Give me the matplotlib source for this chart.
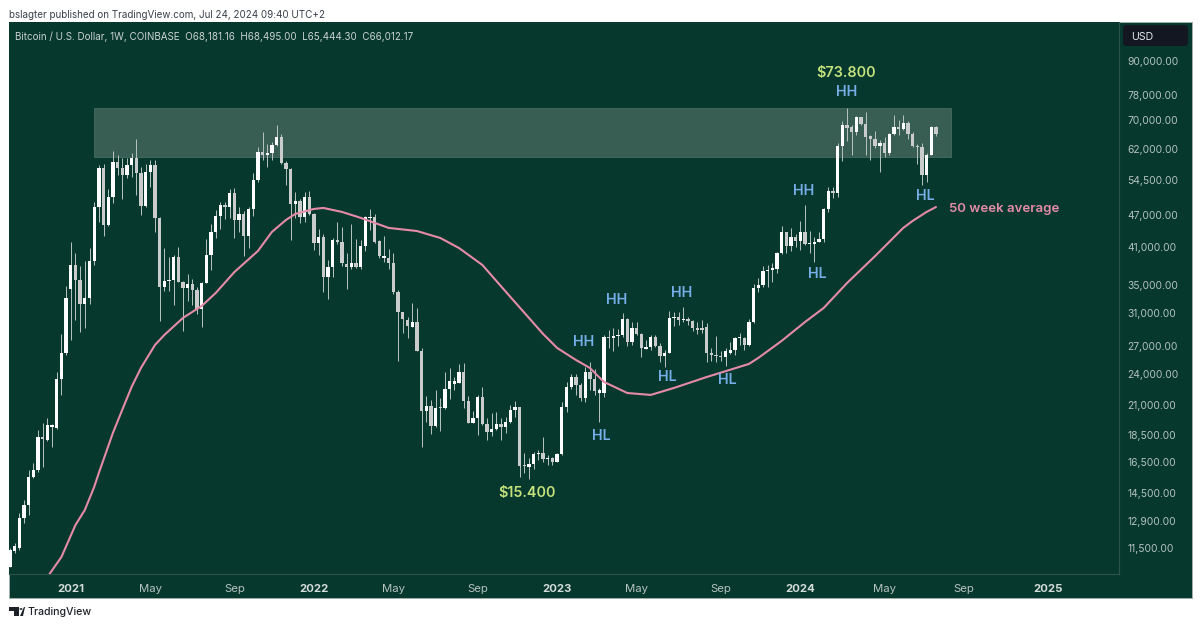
import matplotlib
matplotlib.use("Agg")
import matplotlib.pyplot as plt
import matplotlib.dates as mdates
import matplotlib.ticker as mticker
import pandas as pd
from matplotlib.patches import Rectangle, FancyBboxPatch, Circle, Polygon

plt.rcParams['font.family'] = ['Inter', 'DejaVu Sans']

START = '2020-10-05'
opens = [
 10630,11370,11500,13040,13780,15500,16000,18410,18150,19150,19090,23460,26180,
 34350,38010,35680,32170,33020,38700,48500,57200,45000,50740,58800,57200,55590,57990,59630,56150,48830,56380,57990,46280,34700,35570,35670,39290,35420,34480,35100,34200,31620,35290,39680,43640,46820,49000,48630,51600,46000,47140,43030,48100,54430,61300,60520,61060,63180,65190,58400,57000,49200,49810,46620,50590,
 47150,41770,42850,36180,37740,42240,41830,38190,37630,38280,37630,41190,46300,46620,42030,39220,39220,38280,33900,31100,30100,29200,29830,26470,20540,20950,19250,20800,20750,22500,23000,23120,24220,21430,19520,19940,21790,19390,18800,19000,19390,19200,19550,20600,20830,16330,16210,16400,17080,17150,16720,16800,
 16560,17100,20830,22670,23720,22900,21640,24220,23480,22160,22160,28000,27900,28160,28280,30260,27500,29090,28360,26660,26850,28000,27000,25880,26250,30430,30560,30130,30300,30010,29090,29170,29200,26170,26000,25880,25800,26200,26500,27880,27880,27110,29920,34440,34930,37060,37210,37400,39930,43640,41250,42850,
 42130,43750,41480,41600,41800,42370,48150,51960,51450,62830,68670,68190,66760,70930,68970,65500,64640,62830,63740,61100,66020,68190,67430,69360,66110,62830,62490,55590,60500,68181.16]
highs = [
 11490,11730,13320,14090,15990,16450,18940,19480,19890,19400,24230,28400,34800,
 41900,39930,37800,38600,40780,49700,57990,58350,52390,61540,60540,59630,59630,60970,64800,57440,58200,59190,59190,46640,40780,39370,39700,41010,35560,36550,35820,34680,35420,42420,45180,48000,49600,49600,52500,52700,48630,47800,48630,56130,62690,66770,63420,64020,68700,66220,59000,57300,51810,50160,51810,51960,
 47250,44190,43330,38820,42540,45650,44690,40040,45190,42360,42240,46800,48090,47080,42240,42960,40610,39930,34200,31200,30470,32320,31650,26800,21850,21480,22410,21640,24220,24630,23650,25010,25150,21850,20540,21900,22730,19890,20300,20450,19890,20030,21040,21430,20900,17150,16790,17270,17390,18350,17030,16910,
 17190,21340,23220,23950,23950,23060,24670,25270,24460,22580,28280,28880,29090,28970,30990,30350,29920,29840,28480,27690,28280,28280,27300,26540,31350,31210,31210,31790,30470,30130,29920,30130,29710,26730,28160,26470,26730,27500,28000,28560,28000,30300,35080,35940,37840,38010,38380,40100,44820,43750,44380,43330,
 45780,48970,43940,42850,43640,48300,52760,52930,63740,69950,73800,68670,71330,71130,72450,65830,67040,64450,65370,66300,71630,70140,71630,69840,66760,63370,63550,60930,68400,68495]
lows = [
 10600,11250,11400,12770,13220,15440,15880,16220,18100,17600,19000,21950,26000,
 27680,30130,28680,29120,32300,38000,45650,42880,44900,49320,55590,50220,54820,55190,51090,46950,48500,52780,43760,30030,34000,34100,32090,35300,28800,32700,32100,30870,29290,35200,37200,42530,44300,46200,46280,42680,43760,39500,40780,46750,54000,59330,57440,59190,62800,58200,53300,42250,46330,45320,45650,46950,
 40490,39650,33960,32870,36180,41540,37850,34290,37320,37480,37300,40380,44070,41770,39090,38550,37320,33630,25330,28560,27960,29200,26400,17590,19600,18610,19200,18870,20700,21550,22410,23100,20750,19470,19500,18510,19300,18140,18460,18930,18140,18670,19470,20030,15540,15760,15400,16030,16670,16560,16330,16330,
 16500,17000,20400,22480,21950,21430,21340,22410,21950,19560,21790,26730,26470,27030,28080,27000,27110,28280,25730,26600,26540,26920,25270,24740,26200,29380,29500,29920,29500,28800,28400,28560,25270,25340,25270,25340,24810,26050,26000,27110,26540,27000,29800,33960,34690,34690,35420,36700,39800,40040,40380,40960,
 40490,41400,40040,38430,41800,41800,47620,50380,50730,59060,64190,60500,65830,68800,60500,59230,62230,56380,60080,60500,65830,65830,67230,64640,62670,58250,53300,54050,60400,65444.30]
closes = [
 11400,11570,13040,13800,15500,16000,18410,18200,19340,19340,23460,26180,33020,
 38010,35680,32170,33020,38700,48500,57200,45000,50740,58800,57200,55590,57990,59630,56150,48830,56380,57990,46280,34700,35570,35670,39290,35420,34480,35100,34200,31620,35290,39680,43640,46820,49000,48630,51600,46000,47140,43030,48100,54430,61300,60520,61060,63180,65190,58400,57000,49200,49810,46620,50590,47150,
 41770,42850,36180,37740,42240,41830,38280,37630,38280,37630,41190,46620,46620,41950,39480,39560,38280,33960,31200,30210,29370,29830,26470,20540,20950,19250,20800,20750,22500,23250,23250,24220,21430,19520,19940,21790,19390,18800,19000,19390,19200,19550,20600,20830,16280,16280,16400,17080,17150,16720,16800,16560,
 17100,20830,22670,23720,22900,21640,24220,23480,22350,22410,28000,27950,28160,28280,30260,27500,29090,28360,26810,26850,28000,27000,25880,26250,30430,30560,30130,30300,30010,29090,28880,28880,26170,26000,25880,25800,26470,26500,27880,27950,27110,29920,34440,34930,37060,37210,37480,39930,43640,41250,42850,42130,
 43750,41480,41600,41950,42370,48150,51960,51450,62830,68670,67900,66760,70930,68970,65370,64640,62830,63740,61100,66020,68190,67430,69360,66110,62830,62490,55590,60500,68181,66012.17]

ma_weeks = [8,11,14,16,18,19,22,24,26,28,31,33,37,41,44,48,53,56,59,61,65,67,71,75,81,87,92,96,101,107,114,117,121,124,127,132,137,142,149,158,160,165,170,174,176,179,185,188,191,193,196,198]
ma_values = [10170,11070,12670,13500,14880,15790,18690,20610,22700,24600,27110,28280,30400,31970,33780,36910,40320,43700,45970,47160,48170,48370,47560,46380,44450,43880,42610,40840,38020,33210,28400,26770,25450,24600,23190,22130,21950,22610,23680,25020,25660,27580,29870,31700,33070,35230,39480,41890,44450,45780,47560,48560]

zone_dates = ['2021-02-08', '2024-08-13']
zone_low, zone_high = 60000, 73800

y_ticks = [90000,78000,70000,62000,54500,47000,41000,35000,31000,27000,24000,21000,18500,16500,14500,12900,11500]
x_tick_dates = ['2021-01-04','2021-05-03','2021-09-06','2022-01-03','2022-05-02','2022-09-05','2023-01-02','2023-05-01','2023-09-04','2024-01-01','2024-05-06','2024-09-02','2025-01-06']
x_tick_labels = ['2021','May','Sep','2022','May','Sep','2023','May','Sep','2024','May','Sep','2025']

BG = '#07382E'
ZONE = '#385D52'
LINE = '#2E5449'
W, H = 1200, 627
fig = plt.figure(figsize=(12, 6.27), dpi=100, facecolor='white')

def fx(x): return x / W
def fy(y): return 1 - y / H

# panel behind chart and both axis strips
fig.add_artist(Rectangle((fx(8.5), fy(597.5)), 1183/W, 576/H, transform=fig.transFigure,
                         facecolor=BG, edgecolor='#9fb0aa', lw=0.7, zorder=-5))

ax = fig.add_axes([fx(9), fy(574), 1110/W, 552/H], facecolor=BG)
ax.set_yscale('log')

dates = pd.date_range(START, periods=len(closes), freq='7D')
x = mdates.date2num(dates)
d0 = x[0]

zx = mdates.date2num(pd.to_datetime(zone_dates))
ax.fill_between(zx, zone_low, zone_high, facecolor=ZONE, edgecolor='#41675B', lw=0.7, zorder=1)

ax.vlines(x, lows, highs, color='#b9c4c0', lw=0.7, zorder=3)
colors = ['#ffffff' if c >= o else '#c9cccb' for o, c in zip(opens, closes)]
bottoms = [min(o, c) for o, c in zip(opens, closes)]
heights = [max(abs(c - o), 0.004 * c) for o, c in zip(opens, closes)]
ax.bar(x, heights, bottom=bottoms, width=5.0, color=colors, lw=0, zorder=4)

ma_x = [x[i] for i in ma_weeks]
ax.plot(ma_x, ma_values, color='#E58BA8', lw=1.5, zorder=5, solid_capstyle='round')

ax.set_xlim(d0 - 1.5, d0 + 1660)
ax.set_ylim(10300, 106120)

ax.yaxis.tick_right()
ax.set_yticks(y_ticks)
ax.set_yticklabels([f'{v:,.2f}' for v in y_ticks])
ax.yaxis.set_minor_locator(mticker.NullLocator())
ax.yaxis.set_minor_formatter(mticker.NullFormatter())
ax.tick_params(axis='y', length=0, pad=6, labelsize=7.4, labelcolor='#B4C2BD')
ax.set_xticks(mdates.date2num(pd.to_datetime(x_tick_dates)))
ax.set_xticklabels(x_tick_labels)
ax.tick_params(axis='x', length=0, pad=7, labelsize=8.2, labelcolor='#B4C2BD')
for lab in ax.get_xticklabels():
    if lab.get_text().isdigit():
        lab.set_fontweight('bold')
        lab.set_color('#D5DDDA')
for s in ['top', 'left']:
    ax.spines[s].set_visible(False)
for s in ['right', 'bottom']:
    ax.spines[s].set_color(LINE)
    ax.spines[s].set_linewidth(0.8)

# annotations, placed in pixel terms of the picture
def label(px, py, s, color, size=10.3, weight='semibold', ha='center'):
    fig.text(fx(px), fy(py + 1), s, color=color, fontsize=size, fontweight=weight, ha=ha, va='center')

BLUE = '#76AEE8'
GREEN = '#C5E27C'
for px, py, s in [(847,91,'HH'),(804,190,'HH'),(617,299,'HH'),(682,292,'HH'),(584,341,'HH'),
                  (601,435,'HL'),(667,376,'HL'),(727,379,'HL'),(817,273,'HL'),(925,195,'HL')]:
    label(px, py, s, BLUE)
label(846, 72, '$73.800', GREEN)
label(527, 492, '$15.400', GREEN)
label(949, 208, '50 week average', '#E58BA8', size=9.5, ha='left')

# header, legend, price-axis unit
label(9, 14, 'bslagter published on TradingView.com, Jul 24, 2024 09:40 UTC+2', '#3A3F4A', size=7.1, weight='normal', ha='left')
label(15, 36, 'Bitcoin / U.S. Dollar, 1W, COINBASE  O68,181.16  H68,495.00  L65,444.30  C66,012.17',
      '#C8D2CE', size=7.1, weight='normal', ha='left')
fig.add_artist(FancyBboxPatch((fx(1123), fy(46)), 65/W, 21/H, boxstyle='round,pad=0,rounding_size=0.003',
                              transform=fig.transFigure, facecolor='#131722', edgecolor='none', mutation_aspect=2))
label(1131, 36, 'USD', '#E6E8EC', size=7.6, weight='normal', ha='left')

# footer logo and wordmark
LOGO = '#1E2228'
fig.add_artist(Rectangle((fx(9), fy(611)), 10/W, 4/H, transform=fig.transFigure, facecolor=LOGO, edgecolor='none'))
fig.add_artist(Rectangle((fx(14), fy(616)), 5/W, 9/H, transform=fig.transFigure, facecolor=LOGO, edgecolor='none'))
fig.add_artist(Polygon([(fx(20), fy(616)), (fx(24), fy(607)), (fx(25), fy(607)), (fx(23), fy(616))], closed=True,
                       transform=fig.transFigure, facecolor=LOGO, edgecolor='none'))
fig.add_artist(Circle((fx(21), fy(609)), 1.6/W, transform=fig.transFigure, facecolor=LOGO, edgecolor='none'))
label(28, 611, 'TradingView', LOGO, size=7.6, weight='medium', ha='left')

fig.savefig('out.png', dpi=100, facecolor='white')
